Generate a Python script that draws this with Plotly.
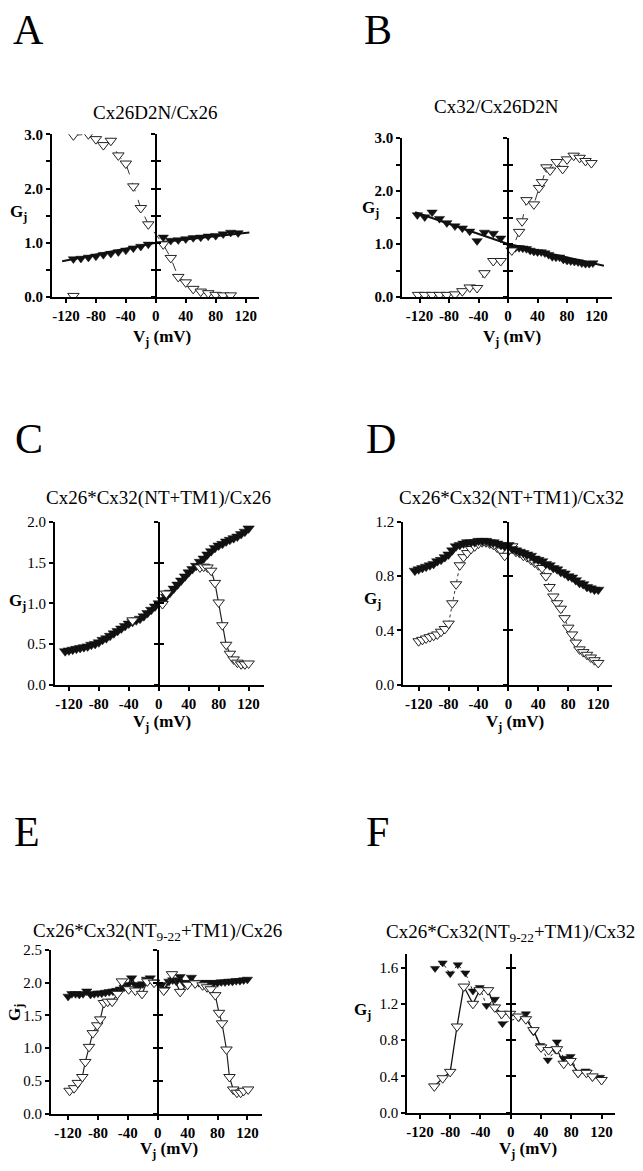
import plotly.graph_objects as go

W, H = 643, 1171
SERIF = "Times New Roman, Liberation Serif, serif"

# ---------------- data: junctional conductance Gj vs. Vj (mV) ----------------
X_TICKS = [-120, -80, -40, 0, 40, 80, 120]
X_LABELS = ["-120", "-80", "-40", "0", "40", "80", "120"]

# A  Cx26D2N/Cx26
A_open_v = [-110, -90, -80, -70, -60, -50, -40, -30, -20, -10, 10, 20, 30, 40, 50, 60, 70, 80, 90, 100]
A_open_g = [2.98, 3.0, 2.91, 2.80, 2.88, 2.61, 2.46, 2.04, 1.64, 1.34, 0.97, 0.72, 0.37, 0.27, 0.15, 0.10, 0.07, 0.04, 0.03, 0.03]
A_lone_v = [-110]
A_lone_g = [0.02]
A_fill_v = [-110, -100, -90, -80, -70, -60, -50, -40, -30, -20, -10, 10, 20, 30, 40, 50, 60, 70, 80, 90, 100, 110]
A_fill_g = [0.70, 0.71, 0.73, 0.75, 0.78, 0.80, 0.83, 0.86, 0.90, 0.93, 0.97, 1.10, 1.04, 1.05, 1.07, 1.09, 1.10, 1.12, 1.13, 1.16, 1.19, 1.18]
A_fit_v = [-125, 0, 125]
A_fit_g = [0.66, 1.0, 1.19]

# B  Cx32/Cx26D2N
B_open_v = [-122, -113, -103, -93, -83, -72, -62, -52, -42, -32, -20, -10, 5, 15, 19, 25, 35, 42, 46, 52, 57, 66, 74, 80, 89, 97, 105, 113]
B_open_g = [0.04, 0.04, 0.04, 0.04, 0.04, 0.05, 0.11, 0.18, 0.17, 0.45, 0.68, 0.68, 0.88, 1.23, 1.43, 1.83, 1.75, 2.06, 2.17, 2.45, 2.39, 2.55, 2.42, 2.60, 2.67, 2.63, 2.57, 2.53]
B_fill_v = [-123, -113, -103, -93, -83, -72, -62, -52, -42, -32, -20, -10,
            5, 10, 15, 20, 25, 30, 35, 40, 45, 50, 55, 60, 65, 70, 75, 80, 85, 90, 95, 100, 105, 110, 115]
B_fill_g = [1.55, 1.51, 1.60, 1.48, 1.40, 1.34, 1.30, 1.24, 1.06, 1.22, 1.20, 1.11,
            0.94, 0.93, 0.93, 0.92, 0.91, 0.88, 0.86, 0.85, 0.85, 0.83, 0.80, 0.76, 0.75, 0.75, 0.71, 0.69, 0.68, 0.67, 0.66, 0.64, 0.63, 0.63, 0.64]
B_fit_v = [-126, 0, 130]
B_fit_g = [1.60, 1.0, 0.59]

# C  Cx26*Cx32(NT+TM1)/Cx26
C_fill_v = [-125, -120, -115, -110, -105, -100, -95, -90, -85, -80, -75, -70, -65, -60, -55, -50, -45, -40, -35, -30,
            -25, -20, -15, -10, -5, 0, 5, 10, 15, 20, 25, 30, 35, 40, 45, 50, 55, 60, 65, 70,
            75, 80, 85, 90, 95, 100, 105, 110, 115, 120]
C_fill_g = [0.41, 0.42, 0.43, 0.44, 0.45, 0.46, 0.47, 0.49, 0.50, 0.52, 0.55, 0.57, 0.60, 0.63, 0.66, 0.69, 0.72, 0.75, 0.77, 0.79,
            0.81, 0.84, 0.88, 0.92, 0.96, 1.00, 1.04, 1.08, 1.13, 1.18, 1.23, 1.28, 1.33, 1.38, 1.42, 1.46, 1.51, 1.55, 1.60, 1.64,
            1.68, 1.71, 1.73, 1.76, 1.78, 1.80, 1.82, 1.85, 1.88, 1.92]
C_open_v = [-35, 5, 10, 55, 60, 65, 70, 75, 80, 85, 90, 95, 100, 105, 110, 115, 120]
C_open_g = [0.79, 0.99, 1.12, 1.44, 1.45, 1.44, 1.40, 1.25, 1.01, 0.73, 0.49, 0.38, 0.31, 0.27, 0.25, 0.25, 0.26]

# D  Cx26*Cx32(NT+TM1)/Cx32
D_fill_v = [-125, -120, -115, -110, -105, -100, -95, -90, -85, -80, -75, -70, -65, -60, -55, -50, -45, -40, -35, -30,
            -25, -20, -15, -10, -5, 0, 5, 10, 15, 20, 25, 30, 35, 40, 45, 50, 55, 60, 65, 70,
            75, 80, 85, 90, 95, 100, 105, 110, 115, 120]
D_fill_g = [0.84, 0.85, 0.86, 0.87, 0.88, 0.89, 0.91, 0.92, 0.94, 0.96, 0.99, 1.02, 1.03, 1.04, 1.05, 1.05, 1.05, 1.06, 1.06, 1.06,
            1.05, 1.05, 1.04, 1.03, 1.02, 1.03, 1.00, 0.99, 0.98, 0.97, 0.96, 0.95, 0.93, 0.92, 0.91, 0.89, 0.88, 0.86, 0.85, 0.83,
            0.82, 0.80, 0.79, 0.77, 0.75, 0.74, 0.72, 0.71, 0.70, 0.70]
D_open_v = [-120, -115, -110, -105, -100, -95, -90, -85, -80, -75, -70, -65, -60, -55, -50, -45, -40, -35, -30, -25, -20, -15, -10, -5,
            5, 10, 15, 20, 25, 30, 35, 40, 45, 50, 55, 60, 65, 70, 75, 80, 85, 90, 95, 100, 105, 110, 115, 120]
D_open_g = [0.32, 0.33, 0.34, 0.35, 0.36, 0.37, 0.39, 0.41, 0.45, 0.60, 0.74, 0.88, 0.94, 0.97, 1.00, 1.02, 1.04, 1.05, 1.05, 1.04, 1.03, 1.01, 0.99, 0.95,
            1.02, 0.98, 0.97, 0.95, 0.94, 0.92, 0.90, 0.88, 0.86, 0.80, 0.72, 0.65, 0.60, 0.56, 0.49, 0.42, 0.37, 0.31, 0.26, 0.24, 0.22, 0.20, 0.18, 0.16]

# E  Cx26*Cx32(NT9-22+TM1)/Cx26
E_fill_v = [-120, -115, -110, -105, -100, -95, -90, -85, -80, -75, -70, -65, -60, -55, -50, -45, -40, -35, -30, -25, -20, -15, -10, -5,
            5, 10, 15, 20, 25, 30, 35, 40, 45, 50, 55, 60, 65, 70, 75, 80, 85, 90, 95, 100, 105, 110, 115, 120]
E_fill_g = [1.79, 1.83, 1.83, 1.82, 1.83, 1.87, 1.82, 1.83, 1.84, 1.84, 1.85, 1.86, 1.87, 1.88, 1.90, 1.93, 1.97, 2.07, 1.97, 1.95, 1.98, 2.05, 2.07, 2.01,
            1.97, 1.90, 2.02, 2.04, 2.02, 2.09, 2.00, 2.00, 2.08, 2.00, 2.00, 2.00, 2.00, 2.00, 2.00, 2.00, 2.01, 2.01, 2.02, 2.02, 2.03, 2.03, 2.04, 2.05]
E_open_v = [-118, -112, -107, -101, -97, -92, -87, -81, -77, -72, -67, -61, -54, -48, -39, -30, -21, -14, -5,
            8, 19, 30, 40, 50, 60, 66, 71, 77, 82, 86, 92, 96, 101, 106, 111, 115, 121]
E_open_g = [0.35, 0.39, 0.47, 0.56, 0.79, 1.02, 1.23, 1.35, 1.44, 1.69, 1.71, 1.71, 1.83, 2.02, 1.90, 1.88, 1.83, 2.02, 2.00,
            1.88, 2.13, 1.86, 1.97, 1.99, 1.96, 1.93, 1.90, 1.81, 1.54, 1.38, 0.98, 0.56, 0.37, 0.32, 0.32, 0.35, 0.37]

# F  Cx26*Cx32(NT9-22+TM1)/Cx32
F_fill_v = [-100, -90, -80, -70, -60, -50, -41, -32, -21, -11, 11, 20, 30, 39, 49, 59, 61, 70, 79, 89, 99, 108, 118]
F_fill_g = [1.59, 1.65, 1.53, 1.63, 1.54, 1.34, 1.38, 1.18, 1.25, 0.98, 1.05, 1.09, 0.89, 0.74, 0.58, 0.69, 0.78, 0.60, 0.62, 0.43, 0.46, 0.39, 0.39]
F_open_v = [-101, -90, -80, -71, -62, -50, -41, -30, -21, -12, -1, 10, 20, 30, 40, 50, 61, 70, 79, 89, 100, 108, 120]
F_open_g = [0.29, 0.38, 0.45, 0.95, 1.39, 1.20, 1.35, 1.35, 1.16, 1.09, 1.09, 1.06, 1.03, 0.91, 0.72, 0.69, 0.70, 0.54, 0.57, 0.44, 0.44, 0.40, 0.36]


def fx(px):
    return px / W


def fy(py):
    return 1 - py / H


def ticks(step, top):
    vals, v = [], 0.0
    while v <= top + 1e-9:
        vals.append(round(v, 2))
        v += step
    return vals


OPEN = dict(symbol="triangle-down", size=10, color="white", line=dict(color="#222", width=1))
FILL = dict(symbol="triangle-down", size=9, color="#111", line=dict(color="#111", width=0.5))

panels = [
    dict(letter="A", letter_xy=(28, 22), title="Cx26D2N/Cx26", title_xy=(155, 106),
         xdom=(51, 258), xr=(-138.7, 137.3), ydom=(128, 293), yr=(0, 3.0),
         ytv=ticks(0.5, 3.0), ytl=lambda v: f"{v:.1f}" if abs(v - round(v)) < 1e-9 else " ",
         zt=ticks(0.5, 3.0), ybold=True, gj_xy=(18, 208), gj_rot=0, vj_xy=(161, 335),
         series=[
             dict(v=A_fit_v, g=A_fit_g, mode="lines", line=dict(color="#111", width=2)),
             dict(v=A_fill_v, g=A_fill_g, mode="markers", marker=FILL),
             dict(v=A_open_v, g=A_open_g, mode="lines+markers", marker=OPEN, line=dict(color="#333", width=1, dash="dash")),
             dict(v=A_lone_v, g=A_lone_g, mode="markers", marker=OPEN),
         ]),
    dict(letter="B", letter_xy=(378, 22), title="Cx32/Cx26D2N", title_xy=(496, 100),
         xdom=(402, 612), xr=(-143.3, 141), ydom=(132, 293), yr=(0, 3.0),
         ytv=ticks(0.5, 3.0), ytl=lambda v: f"{v:.1f}" if abs(v - round(v)) < 1e-9 else " ",
         zt=ticks(0.5, 3.0), ybold=True, gj_xy=(370, 204), gj_rot=0, vj_xy=(512, 335),
         series=[
             dict(v=B_fit_v, g=B_fit_g, mode="lines", line=dict(color="#111", width=2)),
             dict(v=B_fill_v, g=B_fill_g, mode="markers", marker=FILL),
             dict(v=B_open_v, g=B_open_g, mode="lines+markers", marker=OPEN, line=dict(color="#333", width=1, dash="dash")),
         ]),
    dict(letter="C", letter_xy=(28, 437), title="Cx26*Cx32(NT+TM1)/Cx26", title_xy=(158, 497),
         xdom=(54, 263), xr=(-138.7, 140), ydom=(521, 686), yr=(0, 2.0),
         ytv=ticks(0.5, 2.0), ytl=lambda v: f"{v:.1f}",
         zt=ticks(0.5, 2.0), ybold=False, gj_xy=(17, 602), gj_rot=0, vj_xy=(161, 725),
         series=[
             dict(v=C_fill_v, g=C_fill_g, mode="lines+markers", marker=dict(FILL, size=10), line=dict(color="#111", width=4)),
             dict(v=C_open_v[3:], g=C_open_g[3:], mode="lines", line=dict(color="#222", width=1.2)),
             dict(v=C_open_v, g=C_open_g, mode="markers", marker=OPEN),
         ]),
    dict(letter="D", letter_xy=(381, 437), title="Cx26*Cx32(NT+TM1)/Cx32", title_xy=(511, 497),
         xdom=(403, 612), xr=(-140.4, 138.5), ydom=(521, 686), yr=(0, 1.2),
         ytv=ticks(0.4, 1.2), ytl=lambda v: f"{v:.1f}",
         zt=ticks(0.4, 1.2), ybold=False, gj_xy=(372, 600), gj_rot=0, vj_xy=(515, 725),
         series=[
             dict(v=D_open_v, g=D_open_g, mode="lines+markers", marker=OPEN, line=dict(color="#333", width=1, dash="dot")),
             dict(v=D_fill_v, g=D_fill_g, mode="lines+markers", marker=dict(FILL, size=10), line=dict(color="#111", width=3)),
         ]),
    dict(letter="E", letter_xy=(26, 835), title="Cx26*Cx32(NT<sub>9-22</sub>+TM1)/Cx26", title_xy=(157, 937),
         xdom=(50, 261), xr=(-143, 139), ydom=(955, 1121), yr=(0, 2.5),
         ytv=ticks(0.5, 2.5), ytl=lambda v: f"{v:.1f}",
         zt=ticks(0.5, 2.5), ybold=False, gj_xy=(15, 1018), gj_rot=-90, vj_xy=(168, 1158),
         series=[
             dict(v=E_fill_v, g=E_fill_g, mode="lines+markers", marker=FILL, line=dict(color="#111", width=1.5)),
             dict(v=E_open_v, g=E_open_g, mode="lines+markers", marker=OPEN, line=dict(color="#222", width=1.2)),
         ]),
    dict(letter="F", letter_xy=(377, 835), title="Cx26*Cx32(NT<sub>9-22</sub>+TM1)/Cx32", title_xy=(510, 938),
         xdom=(407, 615), xr=(-136.6, 137.8), ydom=(959, 1120), yr=(0, 1.75),
         ytv=ticks(0.4, 1.6), ytl=lambda v: f"{v:.1f}",
         zt=ticks(0.4, 1.6), ybold=False, gj_xy=(362, 1017), gj_rot=0, vj_xy=(528, 1158),
         series=[
             dict(v=F_fill_v, g=F_fill_g, mode="lines+markers", marker=dict(FILL, size=8), line=dict(color="#222", width=1, dash="dot")),
             dict(v=F_open_v, g=F_open_g, mode="lines+markers", marker=OPEN, line=dict(color="#111", width=1.3)),
         ]),
]

fig = go.Figure()
layout = {}
annotations = []

for i, p in enumerate(panels, start=1):
    sfx = "" if i == 1 else str(i)
    xname, yname = "x" + sfx, "y" + sfx
    ov_out, ov_in = 6 + 2 * i - 1, 6 + 2 * i

    for s in p["series"]:
        fig.add_trace(go.Scatter(x=s["v"], y=s["g"], mode=s["mode"], marker=s.get("marker"),
                                 line=s.get("line"), xaxis=xname, yaxis=yname,
                                 showlegend=False, hoverinfo="skip"))
    # empty traces that bind the zero-line axes to this subplot
    for k in (ov_out, ov_in):
        fig.add_trace(go.Scatter(x=[None], y=[None], xaxis=xname, yaxis=f"y{k}",
                                 showlegend=False, hoverinfo="skip"))

    x0, x1 = p["xdom"]
    ytop, ybot = p["ydom"]
    r0, r1 = p["xr"]
    zero_pos = fx(x0 + (0 - r0) / (r1 - r0) * (x1 - x0))

    layout["xaxis" + sfx] = dict(
        domain=[fx(x0), fx(x1)], range=list(p["xr"]), anchor=yname,
        showline=True, linewidth=2, linecolor="black", mirror=False,
        ticks="outside", ticklen=4, tickwidth=1.5, tickcolor="black",
        tickvals=X_TICKS, ticktext=X_LABELS,
        tickfont=dict(family=SERIF, size=15, color="black", weight="bold"),
        showgrid=False, zeroline=False, fixedrange=True)
    layout["yaxis" + sfx] = dict(
        domain=[fy(ybot), fy(ytop)], range=list(p["yr"]), anchor=xname,
        showline=True, linewidth=2, linecolor="black",
        ticks="outside", ticklen=4, tickwidth=1.5, tickcolor="black",
        tickvals=p["ytv"], ticktext=[p["ytl"](v) for v in p["ytv"]],
        tickfont=dict(family=SERIF, size=15, color="black",
                      weight="bold" if p["ybold"] else "normal"),
        showgrid=False, zeroline=False, fixedrange=True)
    common = dict(overlaying=yname, anchor="free", position=zero_pos, side="left",
                  range=list(p["yr"]), tickvals=p["zt"], showticklabels=False,
                  ticklen=4, tickwidth=1.5, tickcolor="black",
                  showgrid=False, zeroline=False, fixedrange=True)
    layout[f"yaxis{ov_out}"] = dict(common, ticks="outside", showline=True, linewidth=2, linecolor="black")
    layout[f"yaxis{ov_in}"] = dict(common, ticks="inside", showline=False)

    lx, ly = p["letter_xy"]
    annotations.append(dict(text=p["letter"], x=fx(lx), y=fy(ly), xref="paper", yref="paper",
                            xanchor="center", yanchor="middle", showarrow=False,
                            font=dict(family=SERIF, size=42, color="black")))
    tx, ty = p["title_xy"]
    annotations.append(dict(text=p["title"], x=fx(tx), y=fy(ty), xref="paper", yref="paper",
                            xanchor="center", yanchor="middle", showarrow=False,
                            font=dict(family=SERIF, size=19, color="black")))
    gx, gy = p["gj_xy"]
    annotations.append(dict(text="G<sub>j</sub>", x=fx(gx), y=fy(gy), xref="paper", yref="paper",
                            xanchor="center", yanchor="middle", showarrow=False, textangle=p["gj_rot"],
                            font=dict(family=SERIF, size=17, color="black", weight="bold")))
    vx, vy = p["vj_xy"]
    annotations.append(dict(text="V<sub>j</sub> (mV)", x=fx(vx), y=fy(vy), xref="paper", yref="paper",
                            xanchor="center", yanchor="middle", showarrow=False,
                            font=dict(family=SERIF, size=17, color="black", weight="bold")))

fig.update_layout(
    width=W, height=H, margin=dict(l=0, r=0, t=0, b=0),
    paper_bgcolor="white", plot_bgcolor="white", showlegend=False,
    annotations=annotations, **layout)

fig.write_html("out.html")
